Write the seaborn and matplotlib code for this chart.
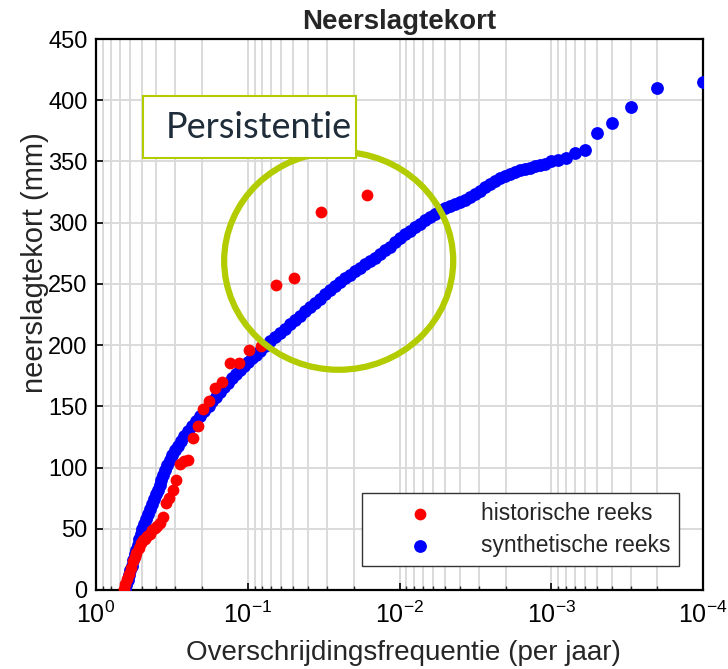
import matplotlib
matplotlib.use("Agg")
import matplotlib.pyplot as plt
import seaborn as sns
from matplotlib.patches import Ellipse, Rectangle
from matplotlib.ticker import LogLocator, NullFormatter

# ---------------- data ----------------
title = "Neerslagtekort"
xlabel = "Overschrijdingsfrequentie (per jaar)"
ylabel = "neerslagtekort (mm)"
label_hist = "historische reeks"
label_syn = "synthetische reeks"
annotation = "Persistentie"

hist_freq = [0.0164, 0.0328, 0.0492, 0.0656, 0.0820, 0.0984, 0.1148, 0.1311,
             0.1475, 0.1639, 0.1803, 0.1967, 0.2131, 0.2295, 0.2459, 0.2623,
             0.2787, 0.2951, 0.3115, 0.3279, 0.3443, 0.3607, 0.3770, 0.3934,
             0.4098, 0.4262, 0.4426, 0.4590, 0.4754, 0.4918, 0.5082, 0.5246,
             0.5410, 0.5574, 0.5738, 0.5902, 0.6066, 0.6230, 0.6393, 0.6557]
hist_values = [323, 309, 255, 249, 199, 196, 185, 185, 170, 165, 154, 148,
               134, 124, 106, 105, 103, 90, 82, 75, 71, 60, 55, 52, 51, 49,
               46, 44, 42, 41, 38, 34, 30, 27, 24, 18, 13, 9, 5, 1]

syn_freq = [0.644, 0.6316, 0.6192, 0.6062, 0.5943, 0.5827, 0.5705, 0.5568,
            0.5435, 0.5321, 0.5193, 0.5084, 0.4977, 0.4829, 0.4684, 0.4544,
            0.4408, 0.4277, 0.4149, 0.4025, 0.3905, 0.3811, 0.3714, 0.3619,
            0.3511, 0.3406, 0.3255, 0.3134, 0.3017, 0.2883, 0.2755, 0.2612,
            0.2477, 0.2331, 0.2194, 0.2065, 0.1944, 0.1801,
            0.1721, 0.1620, 0.1525, 0.1435, 0.1350, 0.1271, 0.1196, 0.1126,
            0.1059, 0.0997, 0.0938, 0.0883, 0.0831,
            0.0770, 0.0714, 0.0662, 0.0614, 0.0569, 0.0527, 0.0489, 0.0453,
            0.0420, 0.0389,
            0.0361, 0.0335, 0.0310, 0.0287, 0.0266, 0.0247, 0.0229, 0.0212,
            0.0197, 0.0182,
            0.0169, 0.0157, 0.0145, 0.0135, 0.0125, 0.0116, 0.0107, 0.00994,
            0.00921, 0.00854,
            0.00792, 0.00734, 0.00680, 0.00631, 0.00585, 0.00542, 0.00502,
            0.00466, 0.00432, 0.00400,
            0.00371, 0.00344, 0.00319, 0.00295, 0.00274, 0.00254, 0.00235,
            0.00218, 0.00202, 0.00187,
            0.00174, 0.00161, 0.00149, 0.00138, 0.00128, 0.00119, 0.00110,
            0.0010, 0.0009, 0.0008, 0.0007, 0.0006, 0.0005, 0.0004, 0.0003,
            0.0002, 0.0001]
syn_values = [0, 4, 8, 12, 16, 20, 24.5, 29, 33, 37, 42, 46, 50, 54, 58, 62,
              66, 70, 74, 78, 82, 86, 90, 94, 98, 102, 106, 110, 114, 118, 122,
              126, 130, 134, 138, 142, 146, 150,
              154, 158, 161.8, 165.5, 169.2, 172.8, 176.3, 179.7, 183, 186.2,
              189.3, 192.3, 195.2,
              199, 203, 206.5, 210, 213.5, 217, 220.5, 224, 227.5, 231,
              234.5, 238, 241.5, 245, 248.5, 251.5, 254.5, 257.5, 260.5, 263.3,
              266, 268.8, 271.5, 274.5, 277.5, 280.5, 284, 287.5, 290.5, 293.5,
              296.5, 299.2, 302, 304.7, 307.4, 310, 311.8, 313.5, 315.2, 317,
              318.8, 320.8, 323.2, 326, 329, 331.5, 334, 336.3, 338.3, 340,
              341.5, 342.8, 344, 345, 346, 347, 348.2,
              350, 351, 352.6, 356.7, 359.4, 373, 381.7, 394.2, 409.8, 415.1]

y_ticks = [0, 50, 100, 150, 200, 250, 300, 350, 400, 450]
x_ticks = [1, 1e-1, 1e-2, 1e-3, 1e-4]

# ---------------- style ----------------
sns.set_theme(style="white")
plt.rcParams['font.family'] = ['Liberation Sans', 'DejaVu Sans']
plt.rcParams['mathtext.fontset'] = 'custom'
plt.rcParams['mathtext.rm'] = 'Liberation Sans'
plt.rcParams['mathtext.it'] = 'Liberation Sans:italic'
plt.rcParams['mathtext.bf'] = 'Liberation Sans:bold'
plt.rcParams['axes.unicode_minus'] = False

RED = '#ff0000'
BLUE = '#0000ff'
GREEN = '#b2cc00'
GRID = '#dadada'

fig = plt.figure(figsize=(7.28, 6.69), dpi=100)
ax = fig.add_axes([96 / 728, 1 - 590 / 669, 607 / 728, 551 / 669])
ax.set_xscale('log')

sns.scatterplot(x=syn_freq, y=syn_values, color=BLUE, s=85, linewidth=0,
                label=label_syn, ax=ax, zorder=3)
sns.scatterplot(x=hist_freq, y=hist_values, color=RED, s=72, linewidth=0,
                label=label_hist, ax=ax, zorder=4)

ax.set_xlim(1, 1e-4)
ax.set_ylim(0, 450)
ax.set_yticks(y_ticks)
ax.set_xticks(x_ticks)
ax.xaxis.set_minor_locator(LogLocator(base=10, subs=range(2, 10), numticks=20))
ax.xaxis.set_minor_formatter(NullFormatter())

ax.set_axisbelow(True)
ax.grid(True, which='major', axis='both', color=GRID, lw=1.4)
ax.grid(True, which='minor', axis='x', color=GRID, lw=1.4)

for sp in ax.spines.values():
    sp.set_color('black')
    sp.set_linewidth(1.6)
    sp.set_visible(True)

ax.tick_params(axis='both', which='major', direction='in', length=5, width=1.2,
               labelsize=17, colors='black', pad=6, top=False, right=False,
               bottom=True, left=True)
ax.tick_params(axis='x', which='major', labelsize=18, pad=8)
ax.tick_params(axis='x', which='minor', direction='in', length=3, width=1.0,
               bottom=True, top=False)

ax.set_title(title, fontsize=20, fontweight='bold', pad=7)
ax.set_xlabel(xlabel, fontsize=20)
ax.set_ylabel(ylabel, fontsize=21)
ax.xaxis.set_label_coords(0.506, -0.114)
ax.yaxis.set_label_coords(-0.077, 0.595)
ax.xaxis.label.set_verticalalignment('center')

handles, labels = ax.get_legend_handles_labels()
hmap = dict(zip(labels, handles))
leg = ax.legend([hmap[label_hist], hmap[label_syn]], [label_hist, label_syn],
                loc='lower right', bbox_to_anchor=(0.9605, 0.0436),
                borderaxespad=0, frameon=True, fancybox=False,
                edgecolor='#333333', framealpha=1, fontsize=16.4,
                handlelength=4.32, handletextpad=0.51, borderpad=0.38,
                labelspacing=0.41)
leg.get_frame().set_linewidth(1.0)

# annotation: green circle and "Persistentie" box
ax.add_patch(Ellipse((0.3998, 0.5975), 0.3773, 0.3956, transform=ax.transAxes,
                     fill=False, edgecolor=GREEN, lw=4.5, clip_on=False,
                     zorder=5))
ax.add_patch(Rectangle((143 / 728, 1 - 158 / 669), 213 / 728, 62 / 669,
                       transform=fig.transFigure, facecolor='white',
                       edgecolor=GREEN, lw=1.5, clip_on=False, zorder=6))
ax.text(259 / 728, 1 - 128 / 669, annotation, transform=fig.transFigure,
        ha='center', va='center', fontsize=26, family=['Lato', 'DejaVu Sans'],
        color='#1f2d3a', zorder=7)

fig.savefig('out.png', dpi=100)
